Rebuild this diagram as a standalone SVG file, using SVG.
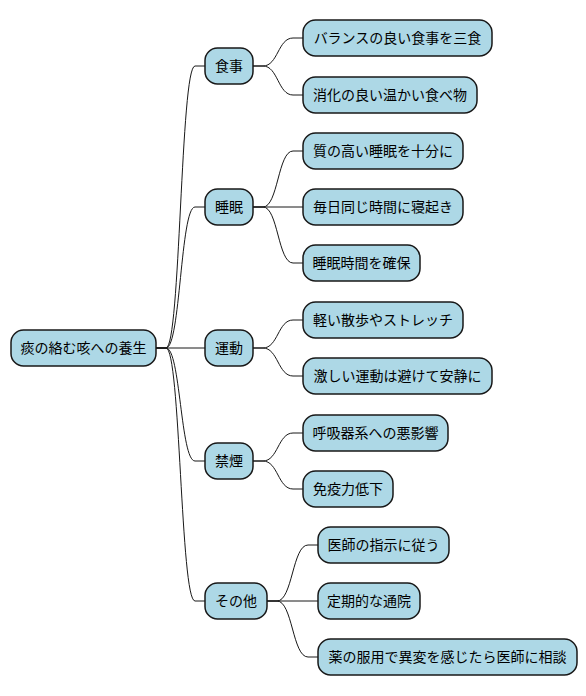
<svg xmlns="http://www.w3.org/2000/svg" width="586" height="696" viewBox="0 0 586 696">
<style>
.n rect{fill:#ADD8E6;stroke:#181818;stroke-width:1.5}
.n text{font-family:"Noto Sans CJK JP","Noto Sans",sans-serif;font-size:14px;fill:#000;text-anchor:middle}
#connectors path{fill:none;stroke:#181818;stroke-width:1}
</style>
<rect width="586" height="696" fill="#FFFFFF"/>
<g id="connectors">
<path d="M156,348 L166,348 C180.5,348 180.5,66 195,66 L205,66"/>
<path d="M156,348 L166,348 C180.5,348 180.5,207 195,207 L205,207"/>
<path d="M156,348 L205,348"/>
<path d="M156,348 L166,348 C180.5,348 180.5,461 195,461 L205,461"/>
<path d="M156,348 L166,348 C180.5,348 180.5,601 195,601 L205,601"/>
<path d="M253,66 L263,66 C278,66 278,38 293,38 L303,38"/>
<path d="M253,66 L263,66 C278,66 278,95 293,95 L303,95"/>
<path d="M253,207 L263,207 C278,207 278,151 293,151 L303,151"/>
<path d="M253,207 L303,207"/>
<path d="M253,207 L263,207 C278,207 278,263 293,263 L303,263"/>
<path d="M253,348 L263,348 C278,348 278,320 293,320 L303,320"/>
<path d="M253,348 L263,348 C278,348 278,376 293,376 L303,376"/>
<path d="M253,461 L263,461 C278,461 278,433 293,433 L303,433"/>
<path d="M253,461 L263,461 C278,461 278,489 293,489 L303,489"/>
<path d="M267,601 L277,601 C292.5,601 292.5,545 308,545 L318,545"/>
<path d="M267,601 L318,601"/>
<path d="M267,601 L277,601 C292.5,601 292.5,657 308,657 L318,657"/>
</g>
<g id="root" class="n"><rect x="11" y="330" width="145" height="36" rx="12.5"/><text x="83.5" y="353">痰の絡む咳への養生</text></g>
<g id="n1" class="n"><rect x="205" y="48" width="48" height="36" rx="12.5"/><text x="229" y="71">食事</text></g>
<g id="n2" class="n"><rect x="205" y="189" width="48" height="36" rx="12.5"/><text x="229" y="212">睡眠</text></g>
<g id="n3" class="n"><rect x="205" y="330" width="48" height="36" rx="12.5"/><text x="229" y="353">運動</text></g>
<g id="n4" class="n"><rect x="205" y="443" width="48" height="36" rx="12.5"/><text x="229" y="466">禁煙</text></g>
<g id="n5" class="n"><rect x="205" y="583" width="62" height="36" rx="12.5"/><text x="236" y="606">その他</text></g>
<g id="n1a" class="n"><rect x="303" y="20" width="189" height="36" rx="12.5"/><text x="397.5" y="43">バランスの良い食事を三食</text></g>
<g id="n1b" class="n"><rect x="303" y="77" width="174" height="36" rx="12.5"/><text x="390" y="100">消化の良い温かい食べ物</text></g>
<g id="n2a" class="n"><rect x="303" y="133" width="160" height="36" rx="12.5"/><text x="383" y="156">質の高い睡眠を十分に</text></g>
<g id="n2b" class="n"><rect x="303" y="189" width="160" height="36" rx="12.5"/><text x="383" y="212">毎日同じ時間に寝起き</text></g>
<g id="n2c" class="n"><rect x="303" y="245" width="117" height="36" rx="12.5"/><text x="361.5" y="268">睡眠時間を確保</text></g>
<g id="n3a" class="n"><rect x="303" y="302" width="160" height="36" rx="12.5"/><text x="383" y="325">軽い散歩やストレッチ</text></g>
<g id="n3b" class="n"><rect x="303" y="358" width="189" height="36" rx="12.5"/><text x="397.5" y="381">激しい運動は避けて安静に</text></g>
<g id="n4a" class="n"><rect x="303" y="415" width="145" height="36" rx="12.5"/><text x="375.5" y="438">呼吸器系への悪影響</text></g>
<g id="n4b" class="n"><rect x="303" y="471" width="90" height="36" rx="12.5"/><text x="348" y="494">免疫力低下</text></g>
<g id="n5a" class="n"><rect x="318" y="527" width="131" height="36" rx="12.5"/><text x="383.5" y="550">医師の指示に従う</text></g>
<g id="n5b" class="n"><rect x="318" y="583" width="102" height="36" rx="12.5"/><text x="369" y="606">定期的な通院</text></g>
<g id="n5c" class="n"><rect x="318" y="639" width="259" height="36" rx="12.5"/><text x="447.5" y="662">薬の服用で異変を感じたら医師に相談</text></g>
</svg>
